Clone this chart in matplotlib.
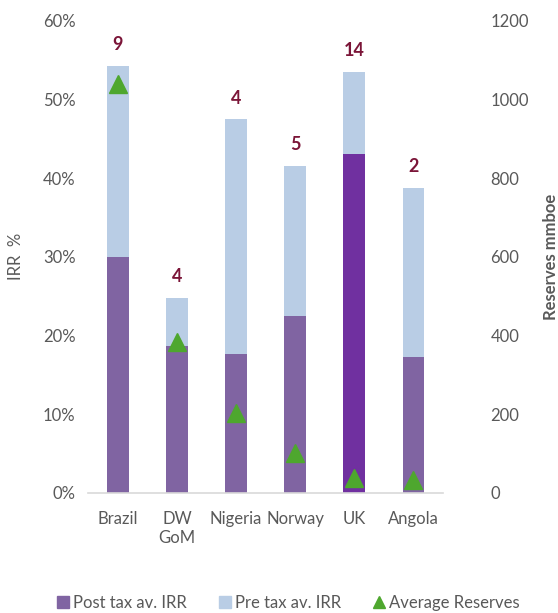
import matplotlib
matplotlib.use("Agg")
import matplotlib.pyplot as plt
from matplotlib.lines import Line2D
from matplotlib.ticker import FuncFormatter

plt.rcParams['font.family'] = ['Lato', 'DejaVu Sans']

categories = ["Brazil", "DW\nGoM", "Nigeria", "Norway", "UK", "Angola"]
post_tax_irr = [30.0, 18.7, 17.7, 22.5, 43.1, 17.3]
pre_tax_irr = [54.3, 24.8, 47.5, 41.6, 53.5, 38.8]
avg_reserves = [1040, 384, 203, 102, 38, 33]
field_counts = ["9", "4", "4", "5", "14", "2"]

c_post = "#8064A2"
c_post_uk = "#7030A0"
c_pre = "#B9CDE5"
c_green = "#4EA72E"
c_label = "#7B1538"
c_text = "#595959"

fs = 12

fig = plt.figure(figsize=(5.58, 6.13), dpi=100)
ax = fig.add_axes([0.158, 0.196, 0.636, 0.770])
ax2 = ax.twinx()

x = list(range(len(categories)))
w = 0.37
ax.bar(x, pre_tax_irr, width=w, color=c_pre, zorder=1)
post_colors = [c_post_uk if c == "UK" else c_post for c in categories]
ax.bar(x, post_tax_irr, width=w, color=post_colors, zorder=2)

for xi, top, lab in zip(x, pre_tax_irr, field_counts):
    ax.text(xi, top + 1.6, lab, ha='center', va='bottom', color=c_label,
            fontsize=13, fontweight='bold')

ax2.plot(x, avg_reserves, linestyle='none', marker='^', markersize=13,
         color=c_green, zorder=5)

ax.set_ylim(0, 60)
ax2.set_ylim(0, 1200)
ax.set_xlim(-0.5, len(categories) - 0.5)
ax.set_yticks(range(0, 61, 10))
ax.yaxis.set_major_formatter(FuncFormatter(lambda v, p: f"{int(v)}%"))
ax2.set_yticks(range(0, 1201, 200))

ax.set_xticks(x)
ax.set_xticklabels(categories, color=c_text, fontsize=fs)
for a in (ax, ax2):
    for s in a.spines.values():
        s.set_visible(False)
    a.tick_params(axis='both', length=0, labelsize=fs, labelcolor=c_text)
ax.spines['bottom'].set_visible(True)
ax.spines['bottom'].set_color("#D9D9D9")
ax.spines['bottom'].set_linewidth(1.2)
ax.tick_params(axis='y', pad=9)
ax.tick_params(axis='x', pad=13)
ax2.tick_params(axis='y', pad=34)

ax.set_ylabel("IRR  %", color=c_text, fontsize=fs, labelpad=14)
ax2.set_ylabel("Reserves mmboe", color=c_text, fontsize=fs,
               fontweight='bold', labelpad=10)

handles = [
    Line2D([], [], linestyle='none', marker='s', markersize=9, color=c_post),
    Line2D([], [], linestyle='none', marker='s', markersize=9, color=c_pre),
    Line2D([], [], linestyle='none', marker='^', markersize=9, color=c_green),
]
labels = ["Post tax av. IRR", "Pre tax av. IRR", "Average Reserves"]
leg = fig.legend(handles, labels, loc='center', bbox_to_anchor=(0.515, 0.016),
                 ncol=3, frameon=False, fontsize=fs, handletextpad=0.1,
                 columnspacing=1.8, handlelength=1.0)
for t in leg.get_texts():
    t.set_color(c_text)

fig.savefig("out.png", dpi=100)
